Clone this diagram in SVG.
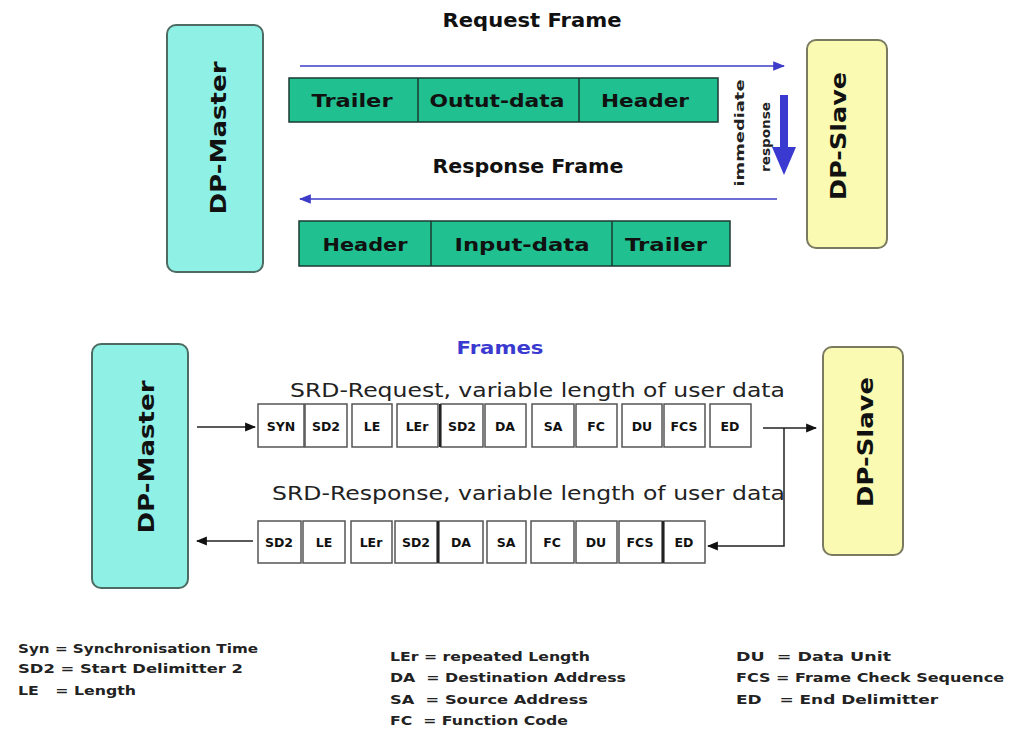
<svg xmlns="http://www.w3.org/2000/svg" width="1010" height="733" viewBox="0 0 1010 733">
  <style>
    .master { fill: #8ff0e6; stroke: #4d6b63; stroke-width: 2; }
    .slave { fill: #fafab2; stroke: #7a7a60; stroke-width: 2; }
    .nodeLabel { font-family: "DejaVu Sans", "Liberation Sans", sans-serif; font-weight: bold; font-size: 22px; fill: #111; }
    .bar { fill: #20c090; stroke: #1a3a30; stroke-width: 1.5; }
    .barLabel { font-family: "DejaVu Sans", "Liberation Sans", sans-serif; font-weight: bold; font-size: 18px; fill: #111; }
    .title { font-family: "DejaVu Sans", "Liberation Sans", sans-serif; font-weight: bold; font-size: 19px; fill: #111; }
    .field { fill: #ffffff; stroke: #555; stroke-width: 1.5; }
    .fieldLabel { font-family: "DejaVu Sans", "Liberation Sans", sans-serif; font-weight: bold; font-size: 12.5px; fill: #111; }
    .srd { font-family: "DejaVu Sans", "Liberation Sans", sans-serif; font-size: 20px; fill: #222; }
    .legend { font-family: "DejaVu Sans", "Liberation Sans", sans-serif; font-weight: bold; font-size: 12.5px; fill: #222; white-space: pre; }
    .blueLine { stroke: #3c3cc8; stroke-width: 1.4; fill: none; }
    .blackLine { stroke: #222; stroke-width: 1.5; fill: none; }
  </style>
  <defs>
    <marker id="blueHead" viewBox="0 0 10 10" refX="9" refY="5" markerWidth="12" markerHeight="12" markerUnits="userSpaceOnUse" orient="auto">
      <path d="M0,1 L10,5 L0,9 Z" fill="#3c3cc8"/>
    </marker>
    <marker id="blackHead" viewBox="0 0 10 10" refX="9" refY="5" markerWidth="11" markerHeight="11" markerUnits="userSpaceOnUse" orient="auto">
      <path d="M0,1 L10,5 L0,9 Z" fill="#111"/>
    </marker>
  </defs>
  <rect width="1010" height="733" fill="#ffffff"/>

  <!-- upper exchange: request / response frames -->
  <g id="master-top">
    <rect class="master" x="167" y="25" width="96" height="247" rx="9"/>
    <text class="nodeLabel" transform="translate(218,138) rotate(-90)" text-anchor="middle" dominant-baseline="central" textLength="153" lengthAdjust="spacingAndGlyphs">DP-Master</text>
  </g>
  <g id="slave-top">
    <rect class="slave" x="807" y="40" width="80" height="208" rx="9"/>
    <text class="nodeLabel" transform="translate(838,136) rotate(-90)" text-anchor="middle" dominant-baseline="central" textLength="128" lengthAdjust="spacingAndGlyphs">DP-Slave</text>
  </g>

  <text class="title" x="532" y="20" text-anchor="middle" dominant-baseline="central" textLength="179" lengthAdjust="spacingAndGlyphs">Request Frame</text>
  <text class="title" x="528" y="166" text-anchor="middle" dominant-baseline="central" textLength="191" lengthAdjust="spacingAndGlyphs">Response Frame</text>

  <g id="request-frame">
    <rect class="bar" x="289" y="78" width="429" height="44"/>
    <line class="bar" x1="418" y1="78" x2="418" y2="122"/>
    <line class="bar" x1="579" y1="78" x2="579" y2="122"/>
    <text class="barLabel" x="352" y="100" text-anchor="middle" dominant-baseline="central" textLength="81" lengthAdjust="spacingAndGlyphs">Trailer</text>
    <text class="barLabel" x="497" y="100" text-anchor="middle" dominant-baseline="central" textLength="135" lengthAdjust="spacingAndGlyphs">Outut-data</text>
    <text class="barLabel" x="645" y="100" text-anchor="middle" dominant-baseline="central" textLength="88" lengthAdjust="spacingAndGlyphs">Header</text>
  </g>
  <g id="response-frame">
    <rect class="bar" x="299" y="221" width="431" height="45"/>
    <line class="bar" x1="431" y1="221" x2="431" y2="266"/>
    <line class="bar" x1="612" y1="221" x2="612" y2="266"/>
    <text class="barLabel" x="365" y="244" text-anchor="middle" dominant-baseline="central" textLength="85" lengthAdjust="spacingAndGlyphs">Header</text>
    <text class="barLabel" x="522" y="244" text-anchor="middle" dominant-baseline="central" textLength="135" lengthAdjust="spacingAndGlyphs">Input-data</text>
    <text class="barLabel" x="666" y="244" text-anchor="middle" dominant-baseline="central" textLength="82" lengthAdjust="spacingAndGlyphs">Trailer</text>
  </g>

  <g id="immediate-response">
    <text class="legend" transform="translate(739,133) rotate(-90)" text-anchor="middle" dominant-baseline="central" font-size="15" textLength="107" lengthAdjust="spacingAndGlyphs">immediate</text>
    <text class="legend" transform="translate(765,137) rotate(-90)" text-anchor="middle" dominant-baseline="central" font-size="10.5" textLength="70" lengthAdjust="spacingAndGlyphs">response</text>
    <rect x="780" y="95" width="8" height="53" fill="#3a3ad0"/>
    <polygon points="772,147 796,147 784,175" fill="#3a3ad0"/>
  </g>

  <g id="connectors-top">
    <line class="blueLine" x1="300" y1="66" x2="784" y2="66" marker-end="url(#blueHead)"/>
    <line class="blueLine" x1="777" y1="199" x2="300" y2="199" marker-end="url(#blueHead)"/>
  </g>

  <!-- lower exchange: SRD telegram fields -->
  <text x="500" y="347" text-anchor="middle" dominant-baseline="central" font-family="DejaVu Sans, Liberation Sans, sans-serif" font-weight="bold" font-size="18" fill="#3a3ad0" textLength="87" lengthAdjust="spacingAndGlyphs">Frames</text>

  <g id="master-bottom">
    <rect class="master" x="92" y="344" width="96" height="244" rx="9"/>
    <text class="nodeLabel" transform="translate(146,457) rotate(-90)" text-anchor="middle" dominant-baseline="central" textLength="153" lengthAdjust="spacingAndGlyphs">DP-Master</text>
  </g>
  <g id="slave-bottom">
    <rect class="slave" x="823" y="347" width="80" height="208" rx="9"/>
    <text class="nodeLabel" transform="translate(865,442) rotate(-90)" text-anchor="middle" dominant-baseline="central" textLength="130" lengthAdjust="spacingAndGlyphs">DP-Slave</text>
  </g>

  <text class="srd" x="290" y="390" dominant-baseline="central" textLength="495" lengthAdjust="spacingAndGlyphs">SRD-Request, variable length of user data</text>
  <text class="srd" x="272" y="493" dominant-baseline="central" textLength="513" lengthAdjust="spacingAndGlyphs">SRD-Response, variable length of user data</text>

  <g id="srd-request">
    <rect class="field" x="258" y="404" width="46" height="43"/>
    <rect class="field" x="305" y="404" width="42" height="43"/>
    <rect class="field" x="352" y="404" width="40" height="43"/>
    <rect class="field" x="397" y="404" width="41" height="43"/>
    <rect class="field" x="441" y="404" width="42" height="43"/>
    <rect class="field" x="485" y="404" width="41" height="43"/>
    <rect class="field" x="532" y="404" width="42" height="43"/>
    <rect class="field" x="576" y="404" width="41" height="43"/>
    <rect class="field" x="622" y="404" width="40" height="43"/>
    <rect class="field" x="664" y="404" width="41" height="43"/>
    <rect class="field" x="710" y="404" width="41" height="43"/>
    <line x1="440" y1="404" x2="440" y2="447" stroke="#222" stroke-width="2"/>
    <g class="fieldLabel" text-anchor="middle" dominant-baseline="central">
      <text x="281" y="426">SYN</text>
      <text x="326" y="426">SD2</text>
      <text x="372" y="426">LE</text>
      <text x="417" y="426">LEr</text>
      <text x="462" y="426">SD2</text>
      <text x="505" y="426">DA</text>
      <text x="553" y="426">SA</text>
      <text x="596" y="426">FC</text>
      <text x="642" y="426">DU</text>
      <text x="684" y="426">FCS</text>
      <text x="730" y="426">ED</text>
    </g>
  </g>

  <g id="srd-response">
    <rect class="field" x="258" y="521" width="43" height="42"/>
    <rect class="field" x="303" y="521" width="42" height="42"/>
    <rect class="field" x="351" y="521" width="41" height="42"/>
    <rect class="field" x="395" y="521" width="42" height="42"/>
    <rect class="field" x="439" y="521" width="44" height="42"/>
    <rect class="field" x="487" y="521" width="39" height="42"/>
    <rect class="field" x="531" y="521" width="43" height="42"/>
    <rect class="field" x="576" y="521" width="41" height="42"/>
    <rect class="field" x="619" y="521" width="43" height="42"/>
    <rect class="field" x="664" y="521" width="41" height="42"/>
    <line x1="438" y1="521" x2="438" y2="563" stroke="#222" stroke-width="2"/>
    <line x1="663" y1="521" x2="663" y2="563" stroke="#222" stroke-width="2"/>
    <g class="fieldLabel" text-anchor="middle" dominant-baseline="central">
      <text x="279" y="542">SD2</text>
      <text x="324" y="542">LE</text>
      <text x="371" y="542">LEr</text>
      <text x="416" y="542">SD2</text>
      <text x="461" y="542">DA</text>
      <text x="506" y="542">SA</text>
      <text x="552" y="542">FC</text>
      <text x="596" y="542">DU</text>
      <text x="640" y="542">FCS</text>
      <text x="684" y="542">ED</text>
    </g>
  </g>

  <g id="connectors-bottom">
    <line class="blackLine" x1="197" y1="427" x2="255" y2="427" marker-end="url(#blackHead)"/>
    <line class="blackLine" x1="763" y1="428" x2="816" y2="428" marker-end="url(#blackHead)"/>
    <polyline class="blackLine" points="784,428 784,546 708,546" marker-end="url(#blackHead)"/>
    <line class="blackLine" x1="253" y1="541" x2="197" y2="541" marker-end="url(#blackHead)"/>
  </g>

  <!-- abbreviations -->
  <g id="legend" xml:space="preserve">
    <text class="legend" x="18" y="648" dominant-baseline="central" textLength="240" lengthAdjust="spacingAndGlyphs">Syn = Synchronisation Time</text>
    <text class="legend" x="18" y="668" dominant-baseline="central" textLength="225" lengthAdjust="spacingAndGlyphs">SD2 = Start Delimitter 2</text>
    <text class="legend" x="18" y="690" dominant-baseline="central" textLength="118" lengthAdjust="spacingAndGlyphs">LE   = Length</text>
    <text class="legend" x="390" y="656" dominant-baseline="central" textLength="200" lengthAdjust="spacingAndGlyphs">LEr = repeated Length</text>
    <text class="legend" x="390" y="677" dominant-baseline="central" textLength="236" lengthAdjust="spacingAndGlyphs">DA  = Destination Address</text>
    <text class="legend" x="390" y="699" dominant-baseline="central" textLength="198" lengthAdjust="spacingAndGlyphs">SA  = Source Address</text>
    <text class="legend" x="390" y="720" dominant-baseline="central" textLength="178" lengthAdjust="spacingAndGlyphs">FC  = Function Code</text>
    <text class="legend" x="736" y="656" dominant-baseline="central" textLength="155" lengthAdjust="spacingAndGlyphs">DU  = Data Unit</text>
    <text class="legend" x="736" y="677" dominant-baseline="central" textLength="268" lengthAdjust="spacingAndGlyphs">FCS = Frame Check Sequence</text>
    <text class="legend" x="736" y="699" dominant-baseline="central" textLength="202" lengthAdjust="spacingAndGlyphs">ED   = End Delimitter</text>
  </g>
</svg>
